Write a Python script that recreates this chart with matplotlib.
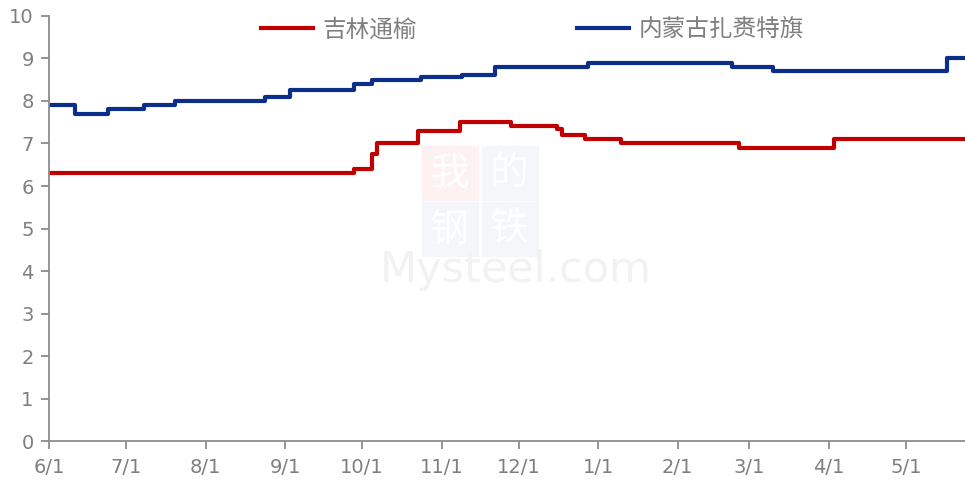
import pandas as pd
import matplotlib.pyplot as plt
import matplotlib.dates as mdates
from matplotlib.patches import Rectangle

plt.rcParams["font.family"] = ["DejaVu Sans", "Noto Sans CJK SC"]

# change points (date, new value); held until the next change
jilin_dates = ["2022-06-01", "2022-09-28", "2022-10-05", "2022-10-07", "2022-10-23",
               "2022-11-08", "2022-11-28", "2022-12-16", "2022-12-18", "2022-12-27",
               "2023-01-10", "2023-02-25", "2023-04-03", "2023-05-24"]
jilin_vals = [6.3, 6.4, 6.75, 7.0, 7.3, 7.5, 7.4, 7.35, 7.2, 7.1, 7.0, 6.9, 7.1, 7.1]

nmg_dates = ["2022-06-01", "2022-06-11", "2022-06-24", "2022-07-08", "2022-07-20",
             "2022-08-24", "2022-09-03", "2022-09-28", "2022-10-05", "2022-10-24",
             "2022-11-09", "2022-11-22", "2022-12-28", "2023-02-22", "2023-03-10",
             "2023-05-17", "2023-05-24"]
nmg_vals = [7.9, 7.7, 7.8, 7.9, 8.0, 8.1, 8.25, 8.4, 8.5, 8.55, 8.6, 8.8, 8.9,
            8.8, 8.7, 9.0, 9.0]

labels = ["吉林通榆", "内蒙古扎赉特旗"]
tick_dates = pd.date_range("2022-06-01", "2023-05-01", freq="MS")

GREY = "#7f7f7f"
RED = "#C00000"
BLUE = "#0B2E8A"

fig = plt.figure(figsize=(9.65, 4.83), dpi=100)
ax = fig.add_axes([0.0508, 0.0863, 0.9492, 0.881])

# faint watermark
for (bx, by, col, ch) in [(0.437, 0.585, "#fdf1f1", "我"), (0.499, 0.585, "#f5f6fa", "的"),
                          (0.437, 0.469, "#f5f6fa", "钢"), (0.499, 0.469, "#f5f6fa", "铁")]:
    fig.add_artist(Rectangle((bx, by), 0.058, 0.113, transform=fig.transFigure,
                             color=col, zorder=0))
    fig.text(bx + 0.029, by + 0.056, ch, ha="center", va="center", fontsize=28,
             color="#ffffff", family=["Noto Sans CJK SC"], zorder=1)
fig.text(0.534, 0.44, "Mysteel.com", ha="center", va="center", fontsize=31,
         color="#f2f2f2", zorder=1)
ax.patch.set_alpha(0)

ax.plot(pd.to_datetime(jilin_dates), jilin_vals, drawstyle="steps-post", color=RED,
        lw=3, label=labels[0], solid_joinstyle="round")
ax.plot(pd.to_datetime(nmg_dates), nmg_vals, drawstyle="steps-post", color=BLUE,
        lw=3, label=labels[1], solid_joinstyle="round")

ax.set_ylim(0, 10)
ax.set_yticks(range(0, 11))
ax.set_xlim(pd.Timestamp("2022-06-01"), pd.Timestamp("2023-05-24"))
ax.set_xticks(tick_dates)
ax.xaxis.set_major_formatter(mdates.DateFormatter("%-m/%-d"))

for s in ["top", "right"]:
    ax.spines[s].set_visible(False)
for s in ["left", "bottom"]:
    ax.spines[s].set_color("#8c8c8c")
    ax.spines[s].set_linewidth(1.3)
ax.tick_params(axis="both", colors="#8c8c8c", labelcolor=GREY, labelsize=14,
               length=6, width=1.3)
ax.tick_params(axis="y", pad=5)
ax.tick_params(axis="x", pad=6)

leg = ax.legend(loc="center", bbox_to_anchor=(0.528, 0.967), ncol=2, frameon=False,
                handlelength=2.2, columnspacing=6.8, handletextpad=0.4,
                borderpad=0, prop={"family": ["Noto Sans CJK SC"], "size": 17})
for t in leg.get_texts():
    t.set_color(GREY)

fig.savefig("out.png", dpi=100)
